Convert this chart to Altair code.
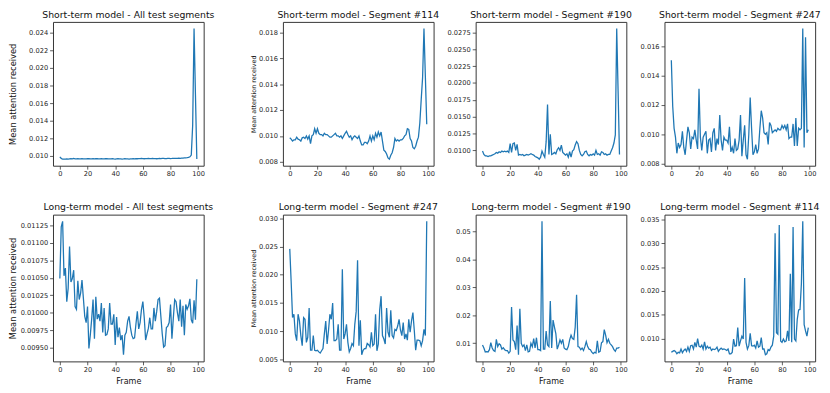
import altair as alt
import pandas as pd

FONT = "DejaVu Sans"
frames = list(range(100))

short_all = [
    0.00990, 0.00972, 0.00963, 0.00964, 0.00965, 0.00966, 0.00964, 0.00967, 0.00968, 0.00966,
    0.00971, 0.00967, 0.00966, 0.00968, 0.00967, 0.00966, 0.00968, 0.00967, 0.00966, 0.00967,
    0.00968, 0.00969, 0.00967, 0.00966, 0.00968, 0.00967, 0.00969, 0.00968, 0.00966, 0.00967,
    0.00968, 0.00966, 0.00967, 0.00968, 0.00969, 0.00967, 0.00966, 0.00967, 0.00968, 0.00966,
    0.00965, 0.00967, 0.00968, 0.00966, 0.00967, 0.00965, 0.00966, 0.00968, 0.00967, 0.00966,
    0.00965, 0.00967, 0.00966, 0.00968, 0.00967, 0.00969, 0.00968, 0.00970, 0.00969, 0.00971,
    0.00970, 0.00968, 0.00969, 0.00970, 0.00971, 0.00969, 0.00970, 0.00971, 0.00970, 0.00969,
    0.00968, 0.00970, 0.00971, 0.00970, 0.00972, 0.00971, 0.00970, 0.00969, 0.00971, 0.00972,
    0.00970, 0.00971, 0.00973, 0.00972, 0.00971, 0.00973, 0.00974, 0.00973, 0.00975, 0.00976,
    0.00977, 0.00978, 0.00980, 0.00983, 0.00990, 0.01010, 0.01350, 0.02450, 0.01700, 0.00965,
]

short_114 = [
    0.00985, 0.00975, 0.00960, 0.00970, 0.00970, 0.00990, 0.00975, 0.00970, 0.00960, 0.00985,
    0.00990, 0.00980, 0.01000, 0.00975, 0.01000, 0.00940, 0.01000, 0.01010, 0.01055, 0.01020,
    0.01055, 0.01020, 0.01010, 0.01010, 0.01000, 0.01020, 0.01010, 0.01010, 0.01000, 0.00990,
    0.00990, 0.01000, 0.01010, 0.01020, 0.01000, 0.01000, 0.00990, 0.01000, 0.00980, 0.01000,
    0.01020, 0.01035, 0.01010, 0.00990, 0.01000, 0.00970, 0.00990, 0.01000, 0.00990, 0.00980,
    0.01000, 0.00960, 0.00930, 0.00930, 0.00950, 0.00950, 0.00940, 0.00960, 0.01000, 0.00960,
    0.01000, 0.00970, 0.01020, 0.00990, 0.01030, 0.01000, 0.01030, 0.00960, 0.00890, 0.00880,
    0.00860, 0.00830, 0.00820, 0.00850, 0.00870, 0.00910, 0.00980, 0.00960, 0.00970, 0.00960,
    0.00970, 0.00970, 0.00980, 0.01000, 0.01010, 0.01055, 0.01050, 0.00980, 0.00960, 0.00910,
    0.00900, 0.00920, 0.00960, 0.00990, 0.01100, 0.01280, 0.01450, 0.01830, 0.01460, 0.01090,
]

short_190 = [
    0.0099, 0.0094, 0.0092, 0.0092, 0.0091, 0.0092, 0.0092, 0.0093, 0.0094, 0.0095,
    0.0097, 0.0096, 0.0098, 0.0097, 0.0099, 0.0098, 0.0099, 0.0098, 0.0099, 0.0097,
    0.0110, 0.0097, 0.0110, 0.0111, 0.0100, 0.0109, 0.0093, 0.0094, 0.0093, 0.0094,
    0.0092, 0.0093, 0.0094, 0.0093, 0.0094, 0.0095, 0.0094, 0.0093, 0.0091, 0.0090,
    0.0089, 0.0087, 0.0090, 0.0099, 0.0094, 0.0090, 0.0113, 0.0168, 0.0094, 0.0124,
    0.0094, 0.0095, 0.0097, 0.0095, 0.0101, 0.0104, 0.0100, 0.0108, 0.0097, 0.0095,
    0.0093, 0.0095, 0.0090, 0.0098, 0.0090, 0.0099, 0.0101, 0.0108, 0.0113, 0.0110,
    0.0100, 0.0094, 0.0092, 0.0094, 0.0098, 0.0099, 0.0094, 0.0092, 0.0094, 0.0093,
    0.0095, 0.0093, 0.0100, 0.0094, 0.0095, 0.0093, 0.0098, 0.0097, 0.0094, 0.0095,
    0.0093, 0.0094, 0.0094, 0.0099, 0.0104, 0.0111, 0.0123, 0.0281, 0.0188, 0.0094,
]

short_247 = [
    0.01503, 0.0119, 0.0104, 0.0098, 0.0087, 0.0094, 0.0091, 0.0093, 0.0102, 0.0091,
    0.0086, 0.0096, 0.0105, 0.0101, 0.0090, 0.0098, 0.0097, 0.0103, 0.0096, 0.0090,
    0.0131, 0.0098, 0.0089, 0.0098, 0.0100, 0.0102, 0.0087, 0.0096, 0.0097, 0.0088,
    0.0101, 0.0104, 0.0089, 0.0097, 0.0093, 0.0113, 0.0096, 0.0089, 0.0098, 0.0096,
    0.0096, 0.0094, 0.0105, 0.0088, 0.0091, 0.0087, 0.0097, 0.0089, 0.0090, 0.0096,
    0.0113, 0.0085, 0.0096, 0.0106, 0.0086, 0.0083, 0.0100, 0.0125, 0.0104, 0.0086,
    0.0088, 0.0093, 0.0087, 0.0090, 0.0104, 0.0116, 0.0111, 0.0101, 0.0100, 0.0101,
    0.0093, 0.0108, 0.0106, 0.0101, 0.0102, 0.0103, 0.0102, 0.0104, 0.0103, 0.0103,
    0.0106, 0.0104, 0.0106, 0.0103, 0.0107, 0.0097, 0.0098, 0.0098, 0.0107, 0.0092,
    0.0111, 0.0092, 0.0104, 0.0103, 0.0104, 0.0172, 0.0091, 0.0166, 0.0101, 0.0103,
]

long_all = [
    0.01049, 0.01123, 0.01131, 0.01053, 0.01064, 0.01016, 0.01035, 0.01095, 0.01044, 0.01049,
    0.01061, 0.01009, 0.01005, 0.01046, 0.01019, 0.01028, 0.01047, 0.01021, 0.00995, 0.00986,
    0.01009, 0.00949, 0.00968, 0.00991, 0.01019, 0.00963, 0.01023, 0.00991, 0.00998, 0.00988,
    0.01014, 0.00972, 0.01007, 0.00968, 0.00969, 0.00977, 0.01014, 0.00984, 0.00984, 0.00998,
    0.00954, 0.00994, 0.00965, 0.00979, 0.00961, 0.00968, 0.00940, 0.00968, 0.00972, 0.00988,
    0.00995, 0.00979, 0.00968, 0.00963, 0.00964, 0.00984, 0.01002, 0.00977, 0.00986, 0.01005,
    0.01016, 0.00993, 0.00961, 0.00970, 0.00978, 0.00993, 0.00977, 0.00977, 0.01007, 0.00988,
    0.01002, 0.01019, 0.01021, 0.00995, 0.00970, 0.00951, 0.00953, 0.00979, 0.00981, 0.00986,
    0.01012, 0.00963, 0.00992, 0.01019, 0.01016, 0.01000, 0.00988, 0.01019, 0.00980, 0.01010,
    0.00968, 0.01012, 0.01005, 0.01010, 0.01020, 0.00990, 0.00985, 0.01018, 0.00990, 0.01048,
]

long_247 = [
    0.0246, 0.0188, 0.0124, 0.0130, 0.0095, 0.0083, 0.0130, 0.0118, 0.0092, 0.0074,
    0.0124, 0.0121, 0.0080, 0.0089, 0.0141, 0.0066, 0.0066, 0.0092, 0.0066, 0.0065,
    0.0066, 0.0063, 0.0061, 0.0065, 0.0069, 0.0095, 0.0118, 0.0077, 0.0101, 0.0130,
    0.0121, 0.0150, 0.0083, 0.0083, 0.0086, 0.0112, 0.0066, 0.0066, 0.0210, 0.0086,
    0.0095, 0.0112, 0.0080, 0.0063, 0.0069, 0.0078, 0.0074, 0.0112, 0.0135, 0.0226,
    0.0074, 0.0119, 0.0058, 0.0066, 0.0069, 0.0069, 0.0078, 0.0076, 0.0072, 0.0098,
    0.0074, 0.0077, 0.0130, 0.0065, 0.0077, 0.0138, 0.0162, 0.0092, 0.0086, 0.0077,
    0.0141, 0.0098, 0.0089, 0.0137, 0.0092, 0.0088, 0.0103, 0.0101, 0.0109, 0.0121,
    0.0102, 0.0092, 0.0115, 0.0086, 0.0095, 0.0084, 0.0121, 0.0098, 0.0118, 0.0133,
    0.0101, 0.0066, 0.0084, 0.0084, 0.0083, 0.0074, 0.0083, 0.0103, 0.0092, 0.0295,
]

long_190 = [
    0.0094, 0.0083, 0.0069, 0.0070, 0.0069, 0.0077, 0.0102, 0.0083, 0.0074, 0.0071,
    0.0114, 0.0088, 0.0098, 0.0094, 0.0079, 0.0084, 0.0077, 0.0074, 0.0074, 0.0065,
    0.0071, 0.0230, 0.0112, 0.0106, 0.0077, 0.0164, 0.0059, 0.0224, 0.0100, 0.0088,
    0.0094, 0.0074, 0.0094, 0.0069, 0.0071, 0.0100, 0.0088, 0.0117, 0.0083, 0.0120,
    0.0077, 0.0077, 0.0074, 0.0537, 0.0079, 0.0079, 0.0144, 0.0094, 0.0088, 0.0251,
    0.0083, 0.0183, 0.0158, 0.0135, 0.0079, 0.0094, 0.0112, 0.0100, 0.0114, 0.0083,
    0.0079, 0.0077, 0.0088, 0.0112, 0.0129, 0.0117, 0.0114, 0.0158, 0.0274, 0.0088,
    0.0086, 0.0077, 0.0083, 0.0074, 0.0088, 0.0106, 0.0088, 0.0079, 0.0077, 0.0068,
    0.0063, 0.0068, 0.0065, 0.0109, 0.0068, 0.0071, 0.0102, 0.0106, 0.0149, 0.0129,
    0.0102, 0.0114, 0.0100, 0.0094, 0.0088, 0.0077, 0.0071, 0.0083, 0.0083, 0.0086,
]

long_114 = [
    0.0071, 0.0073, 0.0075, 0.0073, 0.0068, 0.0071, 0.0070, 0.0078, 0.0070, 0.0075,
    0.0078, 0.0073, 0.0082, 0.0073, 0.0085, 0.0086, 0.0078, 0.0092, 0.0082, 0.0100,
    0.0084, 0.0082, 0.0086, 0.0078, 0.0093, 0.0078, 0.0084, 0.0080, 0.0082, 0.0075,
    0.0078, 0.0077, 0.0078, 0.0082, 0.0073, 0.0077, 0.0080, 0.0077, 0.0078, 0.0077,
    0.0075, 0.0078, 0.0068, 0.0068, 0.0071, 0.0099, 0.0084, 0.0085, 0.0123, 0.0084,
    0.0095, 0.0105, 0.0099, 0.0227, 0.0092, 0.0078, 0.0085, 0.0111, 0.0085, 0.0084,
    0.0086, 0.0080, 0.0095, 0.0082, 0.0084, 0.0102, 0.0078, 0.0078, 0.0066, 0.0068,
    0.0077, 0.0075, 0.0082, 0.0086, 0.0105, 0.0321, 0.0112, 0.0109, 0.0338, 0.0095,
    0.0092, 0.0099, 0.0093, 0.0095, 0.0116, 0.0095, 0.0236, 0.0092, 0.0334, 0.0099,
    0.0095, 0.0140, 0.0160, 0.0161, 0.0215, 0.0346, 0.0129, 0.0116, 0.0105, 0.0123,
]

x_ticks = [0, 20, 40, 60, 80, 100]
ticks_short_all = [0.010, 0.012, 0.014, 0.016, 0.018, 0.020, 0.022, 0.024]
ticks_short_114 = [0.008, 0.010, 0.012, 0.014, 0.016, 0.018]
ticks_short_190 = [0.0100, 0.0125, 0.0150, 0.0175, 0.0200, 0.0225, 0.0250, 0.0275]
ticks_short_247 = [0.008, 0.010, 0.012, 0.014, 0.016]
ticks_long_all = [0.00950, 0.00975, 0.01000, 0.01025, 0.01050, 0.01075, 0.01100, 0.01125]
ticks_long_247 = [0.005, 0.010, 0.015, 0.020, 0.025, 0.030]
ticks_long_190 = [0.01, 0.02, 0.03, 0.04, 0.05]
ticks_long_114 = [0.010, 0.015, 0.020, 0.025, 0.030, 0.035]

W = 154
H_TOP = 147
H_BOT = 150


def panel(values, title, yticks, yfmt, height, extent, ytitle="", ytitle_size=8.5,
          ytitle_pad=3, xtitle=""):
    df = pd.DataFrame({"frame": frames, "value": values})
    lo, hi = min(values), max(values)
    pad = (hi - lo) * 0.05
    y_axis = dict(values=yticks, format=yfmt, minExtent=extent, maxExtent=extent,
                  labelOverlap=False)
    if ytitle:
        y_axis.update(title=ytitle, titleFontSize=ytitle_size, titlePadding=ytitle_pad)
    else:
        y_axis.update(title=None)
    x_axis = dict(values=x_ticks, format="d", labelFlush=False, labelOverlap=False)
    if xtitle:
        x_axis.update(title=xtitle, titleFontSize=8.2, titlePadding=4)
    else:
        x_axis.update(title=None)
    return (
        alt.Chart(df, title=alt.TitleParams(title, fontSize=9.5, font=FONT,
                                            fontWeight="normal", offset=3,
                                            anchor="middle", color="#111"))
        .mark_line(color="#1f77b4", strokeWidth=1.3)
        .encode(
            x=alt.X("frame:Q",
                    scale=alt.Scale(domain=[-4.95, 103.95], nice=False, zero=False),
                    axis=alt.Axis(**x_axis)),
            y=alt.Y("value:Q",
                    scale=alt.Scale(domain=[lo - pad, hi + pad], nice=False, zero=False),
                    axis=alt.Axis(**y_axis)),
        )
        .properties(width=W, height=height)
    )


YT = "Mean attention received"
p1 = panel(short_all, "Short-term model - All test segments", ticks_short_all, ".3f",
           H_TOP, 34, ytitle=YT, ytitle_size=8.5, ytitle_pad=2)
p2 = panel(short_114, "Short-term model - Segment #114", ticks_short_114, ".3f",
           H_TOP, 25, ytitle=YT, ytitle_size=6.5, ytitle_pad=2)
p3 = panel(short_190, "Short-term model - Segment #190", ticks_short_190, ".4f",
           H_TOP, 29)
p4 = panel(short_247, "Short-term model - Segment #247", ticks_short_247, ".3f",
           H_TOP, 25)
p5 = panel(long_all, "Long-term model - All test segments", ticks_long_all, ".5f",
           H_BOT, 34, ytitle=YT, ytitle_size=8.5, ytitle_pad=2, xtitle="Frame")
p6 = panel(long_247, "Long-term model - Segment #247", ticks_long_247, ".3f",
           H_BOT, 25, ytitle=YT, ytitle_size=6.5, ytitle_pad=2, xtitle="Frame")
p7 = panel(long_190, "Long-term model - Segment #190", ticks_long_190, ".2f",
           H_BOT, 29, xtitle="Frame")
p8 = panel(long_114, "Long-term model - Segment #114", ticks_long_114, ".3f",
           H_BOT, 25, xtitle="Frame")

VSP = 24
c1 = alt.vconcat(p1, p5, spacing=VSP)
c2 = alt.vconcat(p2, p6, spacing=VSP)
c3 = alt.vconcat(p3, p7, spacing=VSP)
c4 = alt.vconcat(p4, p8, spacing=VSP)

inner = alt.hconcat(c2, c3, c4, spacing=6)
chart = (
    alt.hconcat(c1, inner, spacing=35)
    .properties(padding={"left": 0, "top": -3, "right": 0, "bottom": 0})
    .configure_view(stroke="#333333", strokeWidth=1)
    .configure_axis(
        labelFont=FONT, labelFontSize=6.8, labelColor="#222222", labelPadding=2,
        tickColor="#333333", tickSize=3.5, tickWidth=0.8, domain=False, grid=False,
        titleFont=FONT, titleFontWeight="normal", titleColor="#111111",
    )
)

chart.save("out.html", embed_options={"renderer": "svg", "actions": False})
